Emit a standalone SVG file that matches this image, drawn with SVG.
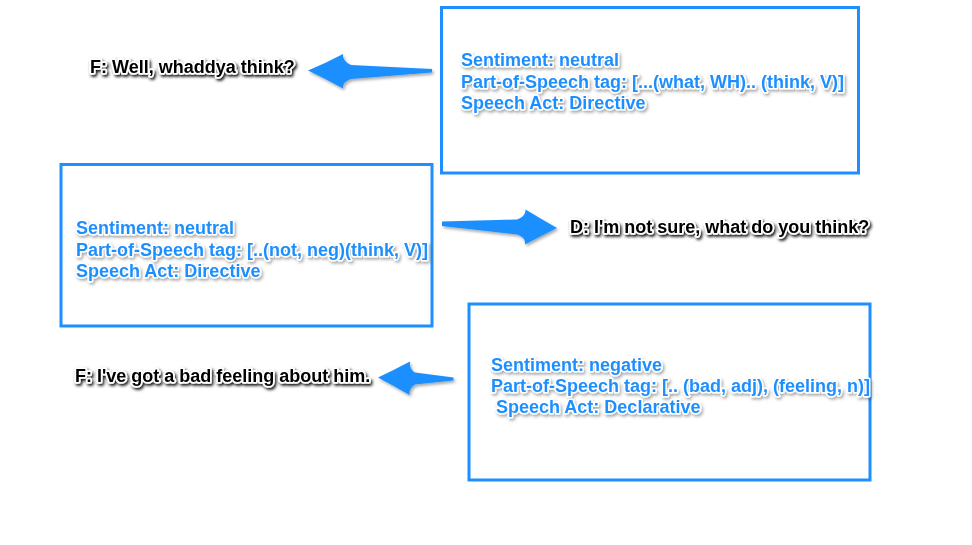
<svg xmlns="http://www.w3.org/2000/svg" width="972" height="545" viewBox="0 0 972 545">
<defs>
<filter id="sh" x="-20%" y="-40%" width="140%" height="180%">
<feDropShadow dx="1.5" dy="2" stdDeviation="1.5" flood-color="#000" flood-opacity="0.35"/>
</filter>
<filter id="shd" x="-10%" y="-40%" width="120%" height="180%">
<feDropShadow dx="1.5" dy="2" stdDeviation="1.6" flood-color="#000" flood-opacity="0.95"/>
</filter>
</defs>
<style>
.box{fill:#fff;stroke:#1f8fff;stroke-width:3}
.bt{font-family:"Liberation Sans",Arial,sans-serif;font-weight:bold;font-size:18px;fill:#1f8fff;stroke:#fff;stroke-width:3;paint-order:stroke;stroke-linejoin:round;filter:url(#sh)}
.kt{font-family:"Liberation Sans",Arial,sans-serif;font-weight:bold;font-size:18px;fill:#000;stroke:#fff;stroke-width:3.5;paint-order:stroke;stroke-linejoin:round;filter:url(#shd)}
.ar{fill:#1f8fff;filter:url(#sh)}
</style>
<rect width="972" height="545" fill="#fff"/>
<g id="node-box1">
<rect class="box" x="441.5" y="7.5" width="417" height="165.5"/>
<text class="bt" x="461" y="66">Sentiment: neutral</text>
<text class="bt" x="461" y="88">Part-of-Speech tag: [...(what, WH).. (think, V)]</text>
<text class="bt" x="461" y="109">Speech Act: Directive</text>
</g>
<g id="node-box2">
<rect class="box" x="61" y="164.5" width="371" height="161.5"/>
<text class="bt" x="76" y="234">Sentiment: neutral</text>
<text class="bt" x="76" y="256">Part-of-Speech tag: [..(not, neg)(think, V)]</text>
<text class="bt" x="76" y="277">Speech Act: Directive</text>
</g>
<g id="node-box3">
<rect class="box" x="469" y="304" width="401" height="176"/>
<text class="bt" x="491" y="371">Sentiment: negative</text>
<text class="bt" x="491" y="392">Part-of-Speech tag: [.. (bad, adj), (feeling, n)]</text>
<text class="bt" x="496" y="413">Speech Act: Declarative</text>
</g>
<g id="node-utt1"><text class="kt" x="90" y="73">F: Well, whaddya think?</text></g>
<g id="node-utt2"><text class="kt" x="570" y="233">D: I'm not sure, what do you think?</text></g>
<g id="node-utt3"><text class="kt" x="75" y="382">F: I've got a bad feeling about him.</text></g>
<g id="connectors">
<path class="ar" d="M308,70.5 Q326,63 343,54 Q342,61 351,65 L432,69 L432,72.5 L351,79 Q342,82 343,88.5 Q326,79 308,70.5 Z"/>
<path class="ar" d="M557,228 Q541,219 525.5,209.5 Q526,216 517,219.5 L442,221.5 L442,226 L517,234.5 Q526,237 525,244.5 Q541,236 557,228 Z"/>
<path class="ar" d="M378,377.5 Q394,370 410,361.5 Q409,369 415,372.5 L453.5,377.5 L453.5,380.5 L415,384.5 Q409,388 409.5,395 Q394,386 378,377.5 Z"/>
</g>
</svg>
